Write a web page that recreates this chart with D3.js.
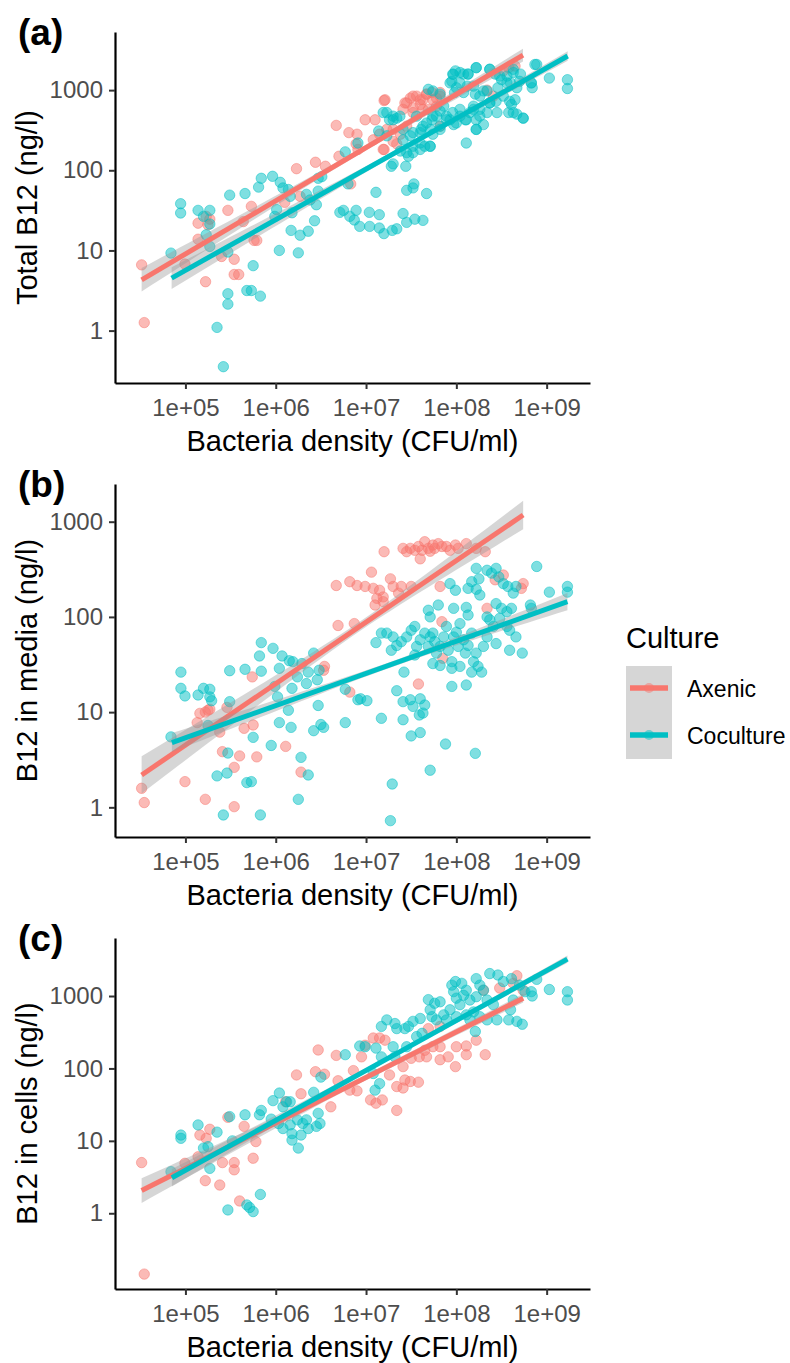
<!DOCTYPE html>
<html>
<head>
<meta charset="utf-8">
<script src="https://cdn.jsdelivr.net/npm/d3@7"></script>
<style>
  body { margin: 0; background: #fff; }
  text { font-family: "Liberation Sans", Arial, sans-serif; }
</style>
</head>
<body>
<svg id="chart" width="790" height="1363"></svg>
<script>
// values are log10(density CFU/ml), log10(B12 ng/l)
const cultures = ['Axenic', 'Coculture']
const cultureColors = ['#F8766D', '#00BFC4']
const xTicks = [1e5, 1e6, 1e7, 1e8, 1e9]
const yTicks = [1, 10, 100, 1000]
const xLimits = [1.66e4, 3.02e9]

const totalAxenic = [[4.515,0.82],[4.544,0.10],[5.223,0.61],[5.14,1.34],[5.14,1.14],[5.23,1.425],[5.25,1.32],[5.27,1.39],[5.40,0.925],[5.54,0.89],[5.54,0.70],[5.59,0.70],[5.47,1.5],[5.64,1.36],[5.73,1.55],[5.76,1.125],[5.79,1.125],[4.995,0.83],[6.23,2.02],[6.44,2.10],[6.55,2.05],[6.10,1.6],[6.27,1.675],[6.67,2.56],[6.81,2.47],[6.70,2.175],[6.83,1.83],[6.90,2.45],[6.91,2.26],[6.89,2.33],
  [7.20,2.87],[6.99,2.63],[7.10,2.63],[7.15,2.45],[7.08,2.38],[7.30,2.36],[7.38,2.45],[7.45,2.55],[7.43,2.84],[7.49,2.9],[7.56,2.925],[7.63,2.88],[7.67,2.95],[7.73,2.97],[7.78,2.9],[7.82,2.97],[7.78,2.8],[7.69,2.76],[7.60,2.82],[7.52,2.72],[7.34,2.33],[7.20,2.26],[7.23,2.51],[8.34,3.0],[8.41,2.925],[8.52,3.24],[8.58,3.28],[8.65,3.3],[7.82,2.55],[7.30,2.51],
  [7.21,2.88],[7.45,2.84],[7.52,2.925],[7.60,2.88],[7.67,2.95],[7.74,2.88],[7.82,2.925],[7.41,2.76],[7.52,2.78],[7.63,2.76],[7.19,2.26]]
const totalCoculture = [[4.84,0.967],[4.947,1.583],[4.947,1.467],[5.14,1.5],[5.27,1.5],[5.20,1.425],[5.27,1.33],[5.23,1.196],[5.27,1.05],[5.47,0.98],[5.49,1.69],[5.66,1.71],[5.81,1.79],[5.84,1.90],[5.75,0.81],[5.68,0.5],[5.73,0.5],[5.83,0.43],[5.47,0.46],[5.47,0.33],[5.35,0.04],[5.42,-0.45],[5.965,1.925],[6.05,1.85],[6.08,1.78],[6.14,1.76],[6.16,1.675],[6.01,1.51],[5.99,1.425],[6.18,1.47],[6.04,1.0],[6.17,1.25],[6.27,1.19],[6.25,0.97],[6.36,1.24],[6.43,1.37],[6.34,1.7],[6.38,1.63],[6.45,1.57],[6.47,1.74],[6.47,1.9],[6.51,1.92],[6.71,1.475],[6.75,1.5],[6.82,1.425],[6.87,1.38],[6.89,1.5],[6.93,1.3],[6.77,2.23],[6.80,1.83],[6.91,2.34],
  [7.036,1.475],[7.147,1.446],[7.04,1.3],[7.147,1.28],[7.198,1.21],[7.29,1.25],[7.34,1.27],[7.41,1.46],[7.45,1.35],[7.54,1.39],[7.63,1.375],[7.11,1.725],[7.45,1.75],[7.53,1.83],[7.52,1.78],[7.67,1.71],[7.28,2.05],[7.30,2.08],[7.44,2.05],[8.11,2.34],
  [7.19,2.72],[7.34,2.65],[7.41,2.51],[7.49,2.43],[7.52,2.3],[7.60,2.34],[7.65,2.3],[7.71,2.3],[7.47,2.175],[7.52,2.22],[7.61,2.51],[7.67,2.59],[7.73,2.63],[7.78,2.675],[7.82,2.74],[7.86,2.8],[7.74,2.99],[7.69,3.01],[7.82,2.95],[7.89,2.675],[7.93,2.63],[7.96,2.72],[8.0,2.59],[8.04,2.76],[8.10,2.63],[8.15,2.72],[8.19,2.8],[8.22,2.63],[8.26,2.76],[8.30,2.57],[8.22,2.51],[8.34,2.72],[8.37,2.84],[7.96,3.2],[7.95,3.11],[7.99,3.24],[8.04,3.22],[8.08,3.2],[8.13,3.2],[8.22,3.28],[8.0,3.03],[8.12,3.05],[8.21,2.95],[8.30,2.99],[8.37,3.26],[8.43,3.2],[8.50,3.13],[8.46,3.03],[8.44,2.86],[8.52,2.925],[8.56,3.175],[8.60,3.09],[8.63,3.26],[8.65,2.88],[8.67,3.03],[8.58,2.72],[8.67,2.7],[8.74,2.65],[8.61,2.82],[8.71,3.2],[8.83,3.09],[8.84,3.03],[8.89,3.32],[9.03,3.15],[9.23,3.13],[9.23,3.02],[7.82,2.51],[7.74,2.45],[7.60,2.47],[7.38,2.24],[7.41,2.38],[7.14,2.49],[7.23,2.43],[7.26,2.63],[7.30,2.675],
  [7.966,3.196],[8.04,3.09],[8.13,3.20],[8.22,3.28],[7.93,3.09],[7.98,2.97],[8.08,2.97],[8.19,3.05],[8.26,2.925],[8.34,2.99],[8.37,3.26],[8.48,3.175],[8.56,3.09],[8.63,3.22],[8.70,3.11],[8.83,3.09],[8.87,3.32],[8.59,2.86],[8.63,2.72],[8.74,2.65],[8.45,2.72],[8.37,2.84],[8.26,2.675],[8.19,2.76],[8.11,2.63],[8.04,2.675],[7.97,2.57],[7.89,2.63],[7.82,2.55],[7.74,2.675],[7.71,2.51],[7.63,2.55],[7.56,2.675],[7.52,2.47],[7.375,2.675],[7.30,2.63],[7.23,2.72],[8.22,2.51],[7.71,2.30],[7.60,2.26],[7.45,2.22]]

const mediaAxenic = [[4.515,0.20],[4.544,0.05],[4.995,0.27],[5.22,0.084],[5.54,0.007],[5.16,0.987],[5.22,1.0],[5.25,1.02],[5.27,1.03],[5.13,0.89],[5.38,0.79],[5.46,1.05],[5.41,0.585],[5.60,0.54],[5.54,0.42],[5.65,0.83],[5.75,0.865],[5.79,0.53],[5.74,1.37],[6.11,0.64],[6.28,0.37],[6.54,1.48],[6.53,1.44],[6.69,1.91],[6.82,1.21],[6.87,1.93],[6.67,2.33],[6.82,2.37],[6.90,2.33],
  [7.20,2.685],[7.41,2.72],[7.45,2.685],[7.49,2.72],[7.54,2.70],[7.60,2.61],[7.65,2.79],[7.69,2.72],[7.74,2.755],[7.80,2.77],[7.84,2.74],[7.89,2.74],[7.99,2.755],[8.02,2.72],[8.11,2.77],[8.22,2.72],[8.32,2.685],[7.58,2.74],[7.62,2.70],[7.71,2.69],[7.76,2.72],[7.93,2.70],
  [6.99,2.32],[7.08,2.30],[7.06,2.47],[7.15,2.28],[7.19,2.21],[7.27,2.40],[7.30,2.32],[7.36,2.25],[7.12,2.195],[7.10,2.125],[7.19,2.16],[7.39,2.32],[7.50,2.32],[7.82,2.32],[7.84,1.95],[8.34,2.09],[8.43,2.39],[8.52,2.44],[8.74,2.35],[8.72,2.30],[7.58,1.295],[7.85,1.565]]
const mediaCoculture = [[4.84,0.74],[4.95,1.42],[4.95,1.25],[4.995,1.17],[5.14,1.18],[5.20,1.25],[5.27,1.24],[5.27,1.16],[5.29,1.12],[5.25,0.86],[5.49,1.435],[5.49,1.11],[5.47,0.57],[5.46,0.36],[5.35,0.33],[5.68,0.26],[5.73,0.27],[5.42,-0.08],[5.83,-0.08],[5.66,1.45],[5.82,1.59],[5.84,1.73],[5.84,1.43],[5.75,0.735],[5.95,0.65],[5.97,1.67],[6.04,1.46],[6.07,1.59],[6.15,1.54],[6.19,1.53],[5.99,1.27],[6.02,1.16],[6.14,1.02],[6.17,0.84],[6.04,0.89],[6.18,1.25],[6.24,1.37],[6.29,1.51],[6.36,1.42],[6.34,1.30],[6.42,1.62],[6.46,1.34],[6.48,1.44],[6.47,1.07],[6.42,0.805],[6.50,0.87],[6.53,0.84],[6.28,0.525],[6.36,0.34],[6.25,0.084],[6.77,0.89],[6.77,1.24],[6.91,1.13],
  [6.94,1.14],[7.01,1.12],[7.17,0.935],[7.34,1.225],[7.41,1.11],[7.49,1.13],[7.52,1.06],[7.60,1.14],[7.65,1.075],[7.59,0.97],[7.63,0.99],[7.41,0.92],[7.50,0.75],[7.60,0.785],[7.88,0.665],[8.21,0.567],[7.71,0.39],[7.29,0.245],[7.27,-0.14],[7.95,1.27],[8.11,1.285],[7.42,1.42],
  [7.11,1.73],[7.17,1.83],[7.23,1.83],[7.30,1.79],[7.28,1.65],[7.34,1.70],[7.39,1.74],[7.45,1.79],[7.50,1.86],[7.54,1.90],[7.56,1.69],[7.60,1.76],[7.65,1.83],[7.69,1.69],[7.71,1.79],[7.74,1.83],[7.76,1.74],[7.78,1.62],[7.82,1.69],[7.86,1.79],[7.89,1.90],[7.91,1.65],[7.95,1.53],[7.97,1.79],[8.0,1.84],[8.02,1.69],[8.04,1.93],[8.08,1.76],[8.10,1.62],[8.13,1.70],[8.17,1.83],[8.19,1.53],[8.22,1.62],[8.28,1.42],[8.24,1.48],[8.30,1.69],[8.34,1.79],[8.17,1.42],[8.04,1.48],[7.95,1.46],[7.82,1.49],[7.74,1.51],[7.54,1.60],
  [7.69,2.07],[7.71,2.0],[7.80,2.125],[7.97,2.09],[8.11,2.1],[8.13,2.02],[7.93,2.35],[7.99,2.28],[8.13,2.30],[8.17,2.37],[8.22,2.51],[8.25,2.40],[8.34,2.49],[8.39,2.46],[8.26,2.23],[8.22,2.29],[8.44,2.51],[8.47,2.42],[8.52,2.35],[8.57,2.32],[8.63,2.25],[8.66,2.32],[8.44,2.14],[8.50,2.09],[8.56,2.055],[8.61,2.09],[8.48,1.985],[8.56,1.90],[8.37,1.97],[8.44,1.72],[8.34,2.0],[8.41,1.90],[8.59,1.86],[8.66,1.79],[8.59,1.65],[8.73,1.62],[8.82,2.125],[8.83,2.09],[8.89,2.53],[9.03,2.26],[9.23,2.32],[9.23,2.26]]

const cellsAxenic = [[4.515,0.70],[4.544,-0.84],[4.995,0.69],[5.14,0.78],[5.16,1.08],[5.23,1.035],[5.27,1.16],[5.22,0.45],[5.38,0.39],[5.41,0.70],[5.47,1.325],[5.54,0.70],[5.54,0.60],[5.60,0.17],[5.65,1.20],[5.75,0.76],[5.78,0.99],[6.11,1.54],[6.23,1.91],[6.28,1.65],[6.44,1.955],[6.54,1.92],[6.47,2.255],[6.61,1.47],[6.67,2.18],[6.69,1.83],[6.86,1.97],[6.82,1.70],[6.90,1.69],
  [7.08,2.42],[7.15,2.42],[7.21,2.39],[6.99,2.32],[6.95,2.16],[7.05,1.565],[7.11,1.52],[7.18,1.565],[7.34,1.42],[7.34,1.75],[7.41,1.73],[7.43,1.84],[7.49,1.82],[7.58,1.81],[7.26,1.91],[7.41,2.025],[7.50,2.14],[7.59,2.16],[7.67,2.16],[7.82,2.12],[7.82,2.30],[7.91,2.16],[7.99,2.025],[8.0,2.30],[8.11,2.31],[8.11,2.19],[8.22,2.39],[8.32,2.19],[7.74,2.30],[7.65,2.25],[8.30,3.08],[8.48,3.11],[8.67,3.28],[8.63,3.175],[8.74,3.08],[7.69,2.55],[7.82,2.58]]
const cellsCoculture = [[4.84,0.575],[4.95,1.08],[4.95,1.035],[5.14,1.22],[5.20,0.90],[5.25,0.92],[5.27,0.62],[5.35,1.12],[5.49,1.335],[5.52,1.00],[5.47,0.046],[5.68,0.115],[5.71,0.08],[5.75,0.023],[5.83,0.26],[5.66,1.36],[5.82,1.36],[5.84,1.42],[5.97,1.555],[6.04,1.66],[6.08,1.47],[6.12,1.54],[6.16,1.54],[5.95,1.30],[6.03,1.24],[6.08,1.17],[6.16,1.22],[6.18,1.10],[6.18,1.01],[6.25,0.90],[6.28,1.08],[6.30,1.24],[6.34,1.29],[6.36,1.17],[6.42,1.67],[6.47,1.38],[6.49,1.24],[6.45,1.20],[6.50,1.88],[6.77,2.19],[6.93,2.31],[6.24,1.29],
  [7.17,2.58],[7.23,2.67],[7.32,2.62],[7.34,2.55],[7.43,2.55],[7.47,2.58],[7.52,2.65],[7.60,2.69],[7.69,2.95],[7.71,2.81],[7.76,2.90],[7.82,2.92],[7.73,2.715],[7.78,2.67],[7.86,2.74],[7.89,2.67],[7.95,3.15],[7.99,3.20],[8.06,3.175],[7.97,3.06],[8.0,2.97],[8.04,2.88],[8.08,3.01],[8.11,3.08],[8.15,2.945],[8.22,3.24],[8.26,3.15],[8.22,2.99],[8.30,3.08],[8.37,3.31],[8.46,3.29],[8.52,3.20],[8.34,2.945],[8.41,2.88],[8.11,2.74],[8.19,2.78],[8.26,2.715],[8.21,2.51],[8.15,2.67],[8.0,2.715],[7.93,2.81],[8.34,2.67],[8.45,2.67],[8.58,2.67],[8.67,2.65],[8.73,2.61],[8.60,2.81],[8.63,2.945],[8.61,3.24],[8.70,3.15],[8.76,3.06],[8.83,3.06],[8.84,3.0],[8.89,3.23],[9.03,3.09],[9.23,3.06],[9.23,2.945],
  [7.30,2.30],[7.45,2.30],[7.56,2.44],[7.62,2.485],[7.32,2.16],[7.17,2.16],[7.11,2.28],[7.15,1.79],[7.10,1.70],[7.08,1.93],[6.99,2.30]]

// fitted lines: x/y ends (log10) and CI half-width [start, narrowest, end]
const totalFits = [
  { x: [4.515, 8.738], y: [0.634, 3.437], band: [0.146, 0.035, 0.08] },
  { x: [4.847, 9.233], y: [0.655, 3.425], band: [0.135, 0.03, 0.06] }
]
const mediaFits = [
  { x: [4.515, 8.74], y: [0.34, 3.07], band: [0.196, 0.05, 0.15] },
  { x: [4.85, 9.23], y: [0.68, 2.16], band: [0.10, 0.03, 0.09] }
]
const cellsFits = [
  { x: [4.515, 8.74], y: [0.313, 2.97], band: [0.17, 0.04, 0.06] },
  { x: [4.85, 9.23], y: [0.49, 3.51], band: [0.12, 0.03, 0.05] }
]

const plotLeft = 115
const plotRight = 590

const panels = [
  { tag: '(a)', title: 'Total B12 (ng/l)', top: 32, bottom: 383, yLimits: [0.222, 5309],
    series: [totalAxenic, totalCoculture], fits: totalFits },
  { tag: '(b)', title: 'B12 in media (ng/l)', top: 484, bottom: 837, yLimits: [0.488, 2489],
    series: [mediaAxenic, mediaCoculture], fits: mediaFits },
  { tag: '(c)', title: 'B12 in cells (ng/l)', top: 938, bottom: 1289, yLimits: [0.09, 6324],
    series: [cellsAxenic, cellsCoculture], fits: cellsFits }
]

const svg = d3.select('#chart')
const pow10 = v => Math.pow(10, v)
const expFormat = v => '1e+' + String(Math.round(Math.log10(v))).padStart(2, '0')

function drawPanel(panel) {
  const g = svg.append('g')
  const x = d3.scaleLog().domain(xLimits).range([plotLeft, plotRight])
  const y = d3.scaleLog().domain(panel.yLimits).range([panel.bottom, panel.top])

  // points
  panel.series.forEach((pts, i) => {
    g.append('g').selectAll('circle').data(pts).enter().append('circle')
      .attr('cx', d => x(pow10(d[0])))
      .attr('cy', d => y(pow10(d[1])))
      .attr('r', 5.2)
      .style('fill', cultureColors[i])
      .style('fill-opacity', 0.5)
      .style('stroke', cultureColors[i])
      .style('stroke-opacity', 0.5)
      .style('stroke-width', 1)
  })

  // regression ribbons + lines
  panel.fits.forEach((fit, i) => {
    const xc = d3.mean(panel.series[i], d => d[0])
    const [hs, hm, he] = fit.band
    const k1 = Math.sqrt(Math.max(hs * hs - hm * hm, 0)) / (xc - fit.x[0])
    const k2 = Math.sqrt(Math.max(he * he - hm * hm, 0)) / (fit.x[1] - xc)
    const lineAt = lx => fit.y[0] + (fit.y[1] - fit.y[0]) * (lx - fit.x[0]) / (fit.x[1] - fit.x[0])
    const halfAt = lx => {
      const k = lx < xc ? k1 : k2
      return Math.sqrt(hm * hm + k * k * (lx - xc) * (lx - xc))
    }
    const steps = d3.range(41).map(s => fit.x[0] + (fit.x[1] - fit.x[0]) * s / 40)
    const area = d3.area()
      .x(lx => x(pow10(lx)))
      .y0(lx => y(pow10(lineAt(lx) - halfAt(lx))))
      .y1(lx => y(pow10(lineAt(lx) + halfAt(lx))))
    g.append('path').attr('d', area(steps))
      .style('fill', '#999999').style('fill-opacity', 0.4)
    g.append('line')
      .attr('x1', x(pow10(fit.x[0]))).attr('y1', y(pow10(fit.y[0])))
      .attr('x2', x(pow10(fit.x[1]))).attr('y2', y(pow10(fit.y[1])))
      .style('stroke', cultureColors[i])
      .style('stroke-width', 5)
  })

  // axes
  const xAxis = g.append('g').attr('transform', `translate(0,${panel.bottom})`)
    .call(d3.axisBottom(x).tickValues(xTicks).tickFormat(expFormat).tickSize(6).tickSizeOuter(0).tickPadding(10))
  const yAxis = g.append('g').attr('transform', `translate(${plotLeft},0)`)
    .call(d3.axisLeft(y).tickValues(yTicks).tickFormat(d3.format('d')).tickSize(6).tickSizeOuter(0).tickPadding(6))
  for (const ax of [xAxis, yAxis]) {
    ax.select('.domain').style('stroke', '#000').style('stroke-width', 2.2)
    ax.selectAll('.tick line').style('stroke', '#333').style('stroke-width', 2)
    ax.selectAll('.tick text')
      .style('font-size', '24px')
      .style('fill', '#4D4D4D')
      .style('font-family', '"Liberation Sans", Arial, sans-serif')
  }

  // titles
  g.append('text')
    .attr('x', (plotLeft + plotRight) / 2)
    .attr('y', panel.bottom + 68)
    .attr('text-anchor', 'middle')
    .style('font-size', '29px')
    .text('Bacteria density (CFU/ml)')
  g.append('text')
    .attr('transform', `translate(37,${(panel.top + panel.bottom) / 2}) rotate(-90)`)
    .attr('text-anchor', 'middle')
    .style('font-size', '29px')
    .text(panel.title)
  g.append('text')
    .attr('x', 18)
    .attr('y', panel.top + 13)
    .style('font-size', '37px')
    .style('font-weight', 'bold')
    .text(panel.tag)
}

panels.forEach(drawPanel)

// legend
const legend = svg.append('g').attr('transform', 'translate(626,0)')
legend.append('text').attr('x', 0).attr('y', 648)
  .style('font-size', '29px').text('Culture')
legend.append('rect')
  .attr('x', 0).attr('y', 666).attr('width', 46).attr('height', 93)
  .style('fill', '#D6D6D6')
cultures.forEach((c, i) => {
  const cy = 688 + i * 47
  legend.append('line')
    .attr('x1', 4).attr('x2', 42).attr('y1', cy).attr('y2', cy)
    .style('stroke', cultureColors[i]).style('stroke-width', 5.5)
  legend.append('circle')
    .attr('cx', 23).attr('cy', cy).attr('r', 5)
    .style('fill', cultureColors[i]).style('fill-opacity', 0.5)
  legend.append('text')
    .attr('x', 61).attr('y', cy + 9)
    .style('font-size', '23px')
    .text(c)
})
</script>
</body>
</html>
